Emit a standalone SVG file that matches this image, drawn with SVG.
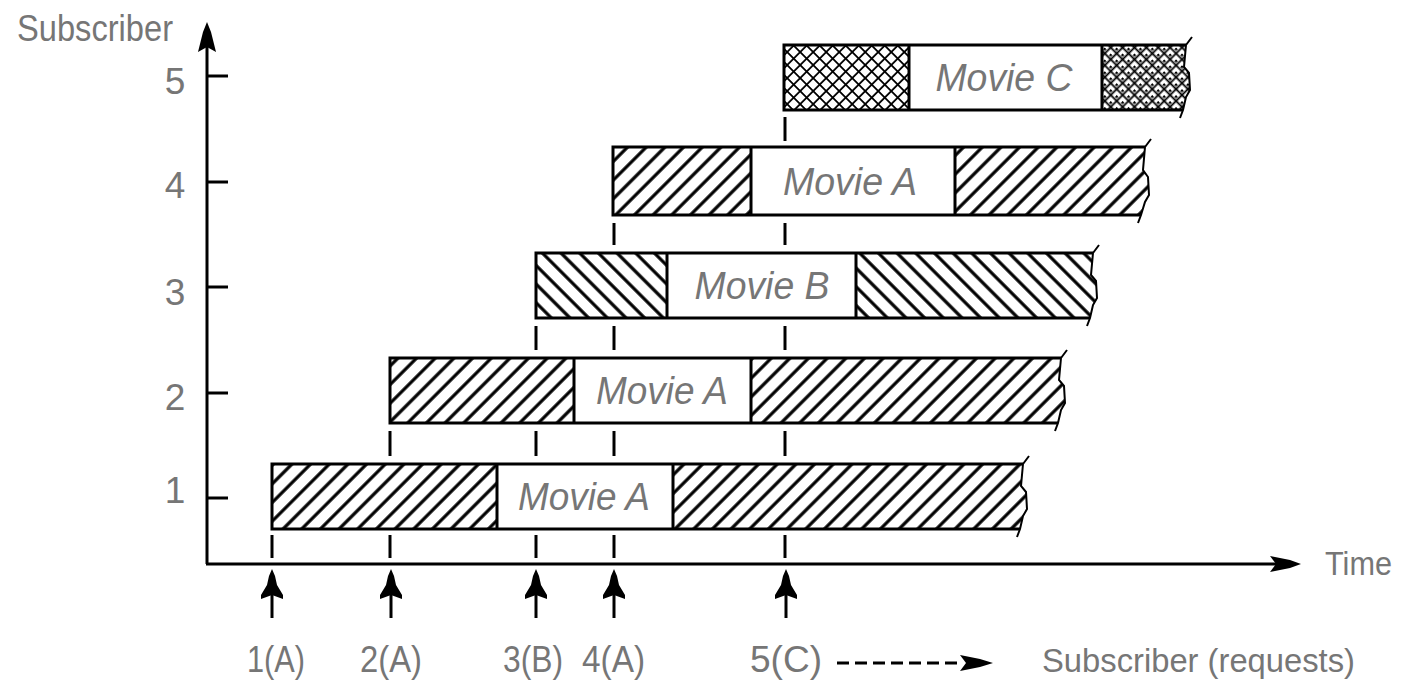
<svg xmlns="http://www.w3.org/2000/svg" width="1401" height="688" viewBox="0 0 1401 688">
<style>
text{font-family:"Liberation Sans",Arial,sans-serif;fill:#767676;}
.lbl{font-size:37px;}
.sm{font-size:33px;}
.mv{font-size:39px;font-style:italic;text-anchor:middle;}
.num{font-size:37px;text-anchor:middle;}
.ol{fill:none;stroke:#000;stroke-width:3;}
.brk{fill:none;stroke:#000;stroke-width:2;}
.ax{fill:none;stroke:#000;stroke-width:3;}
.dash{stroke:#000;stroke-width:3;}
.ah{fill:#000;}
</style>
<defs>
<pattern id="fwd" patternUnits="userSpaceOnUse" width="13.2" height="13.2" patternTransform="rotate(45)">
<rect width="13.2" height="13.2" fill="#fff"/>
<line x1="6.6" y1="0" x2="6.6" y2="13.2" stroke="#000" stroke-width="3.2"/>
</pattern>
<pattern id="bwd" patternUnits="userSpaceOnUse" width="13.2" height="13.2" patternTransform="rotate(-45)">
<rect width="13.2" height="13.2" fill="#fff"/>
<line x1="6.6" y1="0" x2="6.6" y2="13.2" stroke="#000" stroke-width="3.2"/>
</pattern>
<pattern id="xh1" patternUnits="userSpaceOnUse" width="9.2" height="9.2" patternTransform="rotate(45)">
<rect width="9.2" height="9.2" fill="#fff"/>
<line x1="4.6" y1="0" x2="4.6" y2="9.2" stroke="#000" stroke-width="1.8"/>
<line x1="0" y1="4.6" x2="9.2" y2="4.6" stroke="#000" stroke-width="1.8"/>
</pattern>
<pattern id="xh2" patternUnits="userSpaceOnUse" width="8.4" height="8.4" patternTransform="rotate(45)">
<rect width="8.4" height="8.4" fill="#fff"/>
<line x1="4.2" y1="0" x2="4.2" y2="8.4" stroke="#000" stroke-width="1.8"/>
<line x1="0" y1="4.2" x2="8.4" y2="4.2" stroke="#000" stroke-width="1.8"/>
<rect x="0" y="0" width="2.4" height="2.4" fill="#000"/>
</pattern>
</defs>

<g id="axes">
<line class="ax" x1="207" y1="564" x2="207" y2="45"/>
<path class="ah" d="M207,22 L211,32 L216,52 L207,47 L198,52 L203,32 Z"/>
<line class="ax" x1="206" y1="564" x2="1280" y2="564"/>
<path class="ah" d="M1301,564 L1290,568 L1270,572 L1276,564 L1270,556 L1290,560 Z"/>
<g stroke="#000" stroke-width="3">
<line x1="207" y1="76" x2="228" y2="76"/>
<line x1="207" y1="182" x2="228" y2="182"/>
<line x1="207" y1="287" x2="228" y2="287"/>
<line x1="207" y1="393" x2="228" y2="393"/>
<line x1="207" y1="498" x2="228" y2="498"/>
</g>
<text class="lbl" x="17" y="41" textLength="156" lengthAdjust="spacingAndGlyphs">Subscriber</text>
<text class="sm" x="1325" y="575" textLength="67" lengthAdjust="spacingAndGlyphs">Time</text>
<text class="num" x="175" y="94">5</text>
<text class="num" x="175" y="198">4</text>
<text class="num" x="175" y="305">3</text>
<text class="num" x="175" y="410">2</text>
<text class="num" x="175" y="503">1</text>
</g>

<g id="connectors">
<g class="dash">
<line x1="272" y1="535" x2="272" y2="558"/>
<line x1="390" y1="431" x2="390" y2="456"/>
<line x1="390" y1="535" x2="390" y2="558"/>
<line x1="536" y1="326" x2="536" y2="350"/>
<line x1="536" y1="431" x2="536" y2="456"/>
<line x1="536" y1="535" x2="536" y2="558"/>
<line x1="614" y1="223" x2="614" y2="245"/>
<line x1="614" y1="326" x2="614" y2="350"/>
<line x1="614" y1="431" x2="614" y2="456"/>
<line x1="614" y1="535" x2="614" y2="558"/>
<line x1="785" y1="117" x2="785" y2="141"/>
<line x1="785" y1="223" x2="785" y2="245"/>
<line x1="785" y1="326" x2="785" y2="350"/>
<line x1="785" y1="431" x2="785" y2="456"/>
<line x1="785" y1="535" x2="785" y2="558"/>
</g>
<g id="requests">
<line class="dash" x1="272" y1="592" x2="272" y2="618"/>
<path class="ah" d="M272,569 L275,576 L277,585 L283,595 L283,599 L272,595 L261,599 L261,595 L267,585 L269,576 Z"/>
<line class="dash" x1="391" y1="592" x2="391" y2="618"/>
<path class="ah" d="M391,569 L394,576 L396,585 L402,595 L402,599 L391,595 L380,599 L380,595 L386,585 L388,576 Z"/>
<line class="dash" x1="536" y1="592" x2="536" y2="618"/>
<path class="ah" d="M536,569 L539,576 L541,585 L547,595 L547,599 L536,595 L525,599 L525,595 L531,585 L533,576 Z"/>
<line class="dash" x1="614" y1="592" x2="614" y2="618"/>
<path class="ah" d="M614,569 L617,576 L619,585 L625,595 L625,599 L614,595 L603,599 L603,595 L609,585 L611,576 Z"/>
<line class="dash" x1="786" y1="592" x2="786" y2="618"/>
<path class="ah" d="M786,569 L789,576 L791,585 L797,595 L797,599 L786,595 L775,599 L775,595 L781,585 L783,576 Z"/>
</g>
<g id="legend-arrow">
<line x1="837" y1="663" x2="962" y2="663" stroke="#000" stroke-width="3" stroke-dasharray="12 6"/>
<path class="ah" d="M993,663 L980,667 L960,671 L966,663 L960,655 L980,659 Z"/>
</g>
</g>

<g id="bar1">
<rect x="272" y="464" width="225" height="65" fill="url(#fwd)"/>
<path d="M673,464 H1023 L1021,486 L1026,492 L1027,509 L1023,516 L1020,529 H673 Z" fill="url(#fwd)"/>
<path class="ol" d="M1023,464 H272 V529 H1020 M497,464 V529 M673,464 V529"/>
<path class="brk" d="M1029,456 L1023,464 L1021,486 L1026,492 L1027,509 L1023,516 L1020,529 L1017,537"/>
<text class="mv" x="584" y="510" textLength="132" lengthAdjust="spacingAndGlyphs">Movie A</text>
</g>

<g id="bar2">
<rect x="390" y="358" width="184" height="65" fill="url(#fwd)"/>
<path d="M751,358 H1061 L1059,380 L1064,386 L1065,403 L1061,410 L1058,423 H751 Z" fill="url(#fwd)"/>
<path class="ol" d="M1061,358 H390 V423 H1058 M574,358 V423 M751,358 V423"/>
<path class="brk" d="M1067,350 L1061,358 L1059,380 L1064,386 L1065,403 L1061,410 L1058,423 L1055,431"/>
<text class="mv" x="662" y="404" textLength="132" lengthAdjust="spacingAndGlyphs">Movie A</text>
</g>

<g id="bar3">
<rect x="536" y="253" width="131" height="65" fill="url(#bwd)"/>
<path d="M856,253 H1093 L1091,275 L1096,281 L1097,298 L1093,305 L1090,318 H856 Z" fill="url(#bwd)"/>
<path class="ol" d="M1093,253 H536 V318 H1090 M667,253 V318 M856,253 V318"/>
<path class="brk" d="M1099,245 L1093,253 L1091,275 L1096,281 L1097,298 L1093,305 L1090,318 L1087,326"/>
<text class="mv" x="762" y="299" textLength="135" lengthAdjust="spacingAndGlyphs">Movie B</text>
</g>

<g id="bar4">
<rect x="613" y="147" width="138" height="68" fill="url(#fwd)"/>
<path d="M955,147 H1145 L1143,170 L1148,177 L1149,195 L1145,202 L1141,215 H955 Z" fill="url(#fwd)"/>
<path class="ol" d="M1145,147 H613 V215 H1141 M751,147 V215 M955,147 V215"/>
<path class="brk" d="M1151,139 L1145,147 L1143,170 L1148,177 L1149,195 L1145,202 L1141,215 L1138,223"/>
<text class="mv" x="850" y="195" textLength="134" lengthAdjust="spacingAndGlyphs">Movie A</text>
</g>

<g id="bar5">
<rect x="784" y="45" width="125" height="65" fill="url(#xh1)"/>
<path d="M1102,45 H1186 L1184,67 L1189,73 L1190,90 L1186,97 L1183,110 H1102 Z" fill="url(#xh2)"/>
<path class="ol" d="M1186,45 H784 V110 H1183 M909,45 V110 M1102,45 V110"/>
<path class="brk" d="M1192,37 L1186,45 L1184,67 L1189,73 L1190,90 L1186,97 L1183,110 L1180,118"/>
<text class="mv" x="1004" y="91" textLength="137" lengthAdjust="spacingAndGlyphs">Movie C</text>
</g>

<g id="labels">
<text class="lbl" x="247" y="672" textLength="58" lengthAdjust="spacingAndGlyphs">1(A)</text>
<text class="lbl" x="360" y="672" textLength="62" lengthAdjust="spacingAndGlyphs">2(A)</text>
<text class="lbl" x="503" y="672" textLength="60" lengthAdjust="spacingAndGlyphs">3(B)</text>
<text class="lbl" x="582" y="672" textLength="63" lengthAdjust="spacingAndGlyphs">4(A)</text>
<text class="lbl" x="750" y="672" textLength="72" lengthAdjust="spacingAndGlyphs">5(C)</text>
<text class="sm" x="1042" y="672" textLength="313" lengthAdjust="spacingAndGlyphs">Subscriber (requests)</text>
</g>
</svg>
